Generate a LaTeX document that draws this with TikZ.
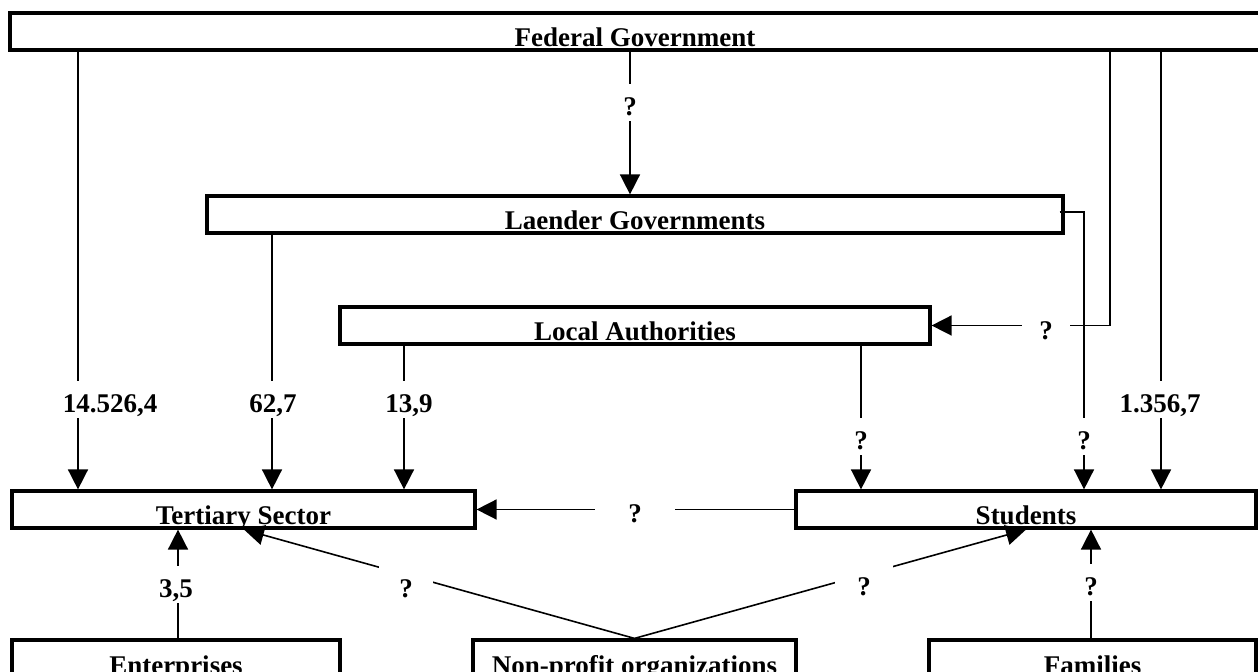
\documentclass[tikz,border=0pt]{standalone}
\usepackage{fontspec}
\setmainfont{Liberation Serif}
\usetikzlibrary{arrows.meta}
\begin{document}
\begin{tikzpicture}[x=0.5pt,y=-0.5pt,
  font=\bfseries\fontsize{13.5}{16}\selectfont,
  box/.style={draw, line width=1.6pt, inner xsep=0pt, inner ysep=0pt, text height=16.75pt, text depth=1.75pt, minimum height=0pt},
  lowbox/.style={box, text height=17.5pt, text depth=10pt},
  conn/.style={line width=0.8pt},
  arr/.style={conn, -{Triangle[length=10pt,width=10pt]}},
  lab/.style={fill=white, inner xsep=2pt, inner ysep=0pt, text height=16pt, text depth=2.5pt, anchor=base},
]
\useasboundingbox (0,0) rectangle (1258,672);
\clip (0,0) rectangle (1258,672);
% boxes
\node[box, minimum width=625pt] (fed) at (635,31.5) {Federal Government};
\node[box, minimum width=428pt] (lg) at (635,214.5) {Laender Governments};
\node[box, minimum width=295pt] (la) at (635,325.5) {Local Authorities};
\node[box, minimum width=231.5pt] (ts) at (243.5,509.5) {Tertiary Sector};
\node[box, minimum width=230pt] (st) at (1026,509.5) {Students};
\node[lowbox, minimum width=164pt] (ent) at (176,667.5) {Enterprises};
\node[lowbox, minimum width=161.5pt] (np) at (634.5,667.5) {Non-profit organizations};
\node[lowbox, minimum width=163.5pt] (fam) at (1092.5,667.5) {Families};
% x positions of connectors
\coordinate (xA) at (78,0);
\coordinate (xB) at (630,0);
\coordinate (xC) at (272,0);
\coordinate (xD) at (1084,0);
\coordinate (xE) at (1110,0);
\coordinate (xF) at (178,0);
\coordinate (xG) at (244,0);
\coordinate (xH) at (1026,0);
\coordinate (xI) at (1091,0);
\coordinate (xJ) at (404,0);
\coordinate (xK) at (861,0);
\coordinate (xL) at (1161,0);
% connectors
\draw[arr] (fed.south -| xA) -- (ts.north -| xA);
\draw[arr] (fed.south -| xB) -- (lg.north -| xB);
\draw[arr] (lg.south -| xC) -- (ts.north -| xC);
\draw[arr] (la.south -| xJ) -- (ts.north -| xJ);
\draw[arr] (la.south -| xK) -- (st.north -| xK);
\draw[arr] ([xshift=-2.5pt,yshift=1.25pt]lg.east) -| (st.north -| xD);
\draw[arr] (fed.south -| xE) |- (la.east);
\draw[arr] (fed.south -| xL) -- (st.north -| xL);
\draw[arr] (st.west) -- (ts.east);
\draw[arr] (ent.north -| xF) -- (ts.south -| xF);
\draw[arr] (np.north) -- (ts.south -| xG);
\draw[arr] (np.north) -- (st.south -| xH);
\draw[arr] (fam.north -| xI) -- (st.south -| xI);
% labels
\node[lab] (l1) at (110,413) {14.526,4};
\node[lab] (l2) at (630,116) {?};
\node[lab] (l3) at (273,413) {62,7};
\node[lab] (l4) at (409,413) {13,9};
\node[lab] (l5) at (861,450) {?};
\node[lab] (l6) at (1084,450) {?};
\node[lab, inner xsep=8.75pt] (l7) at (1046,340) {?};
\node[lab] (l8) at (1160,413) {1.356,7};
\node[lab, inner xsep=16.5pt] (l9) at (635,523) {?};
\node[lab] (l10) at (176,598) {3,5};
\node[lab, inner xsep=10pt, text height=17pt] (l11) at (406,598) {?};
\node[lab, inner xsep=11pt, text height=17pt] (l12) at (864,596) {?};
\node[lab] (l13) at (1091,596) {?};
\end{tikzpicture}
\end{document}
